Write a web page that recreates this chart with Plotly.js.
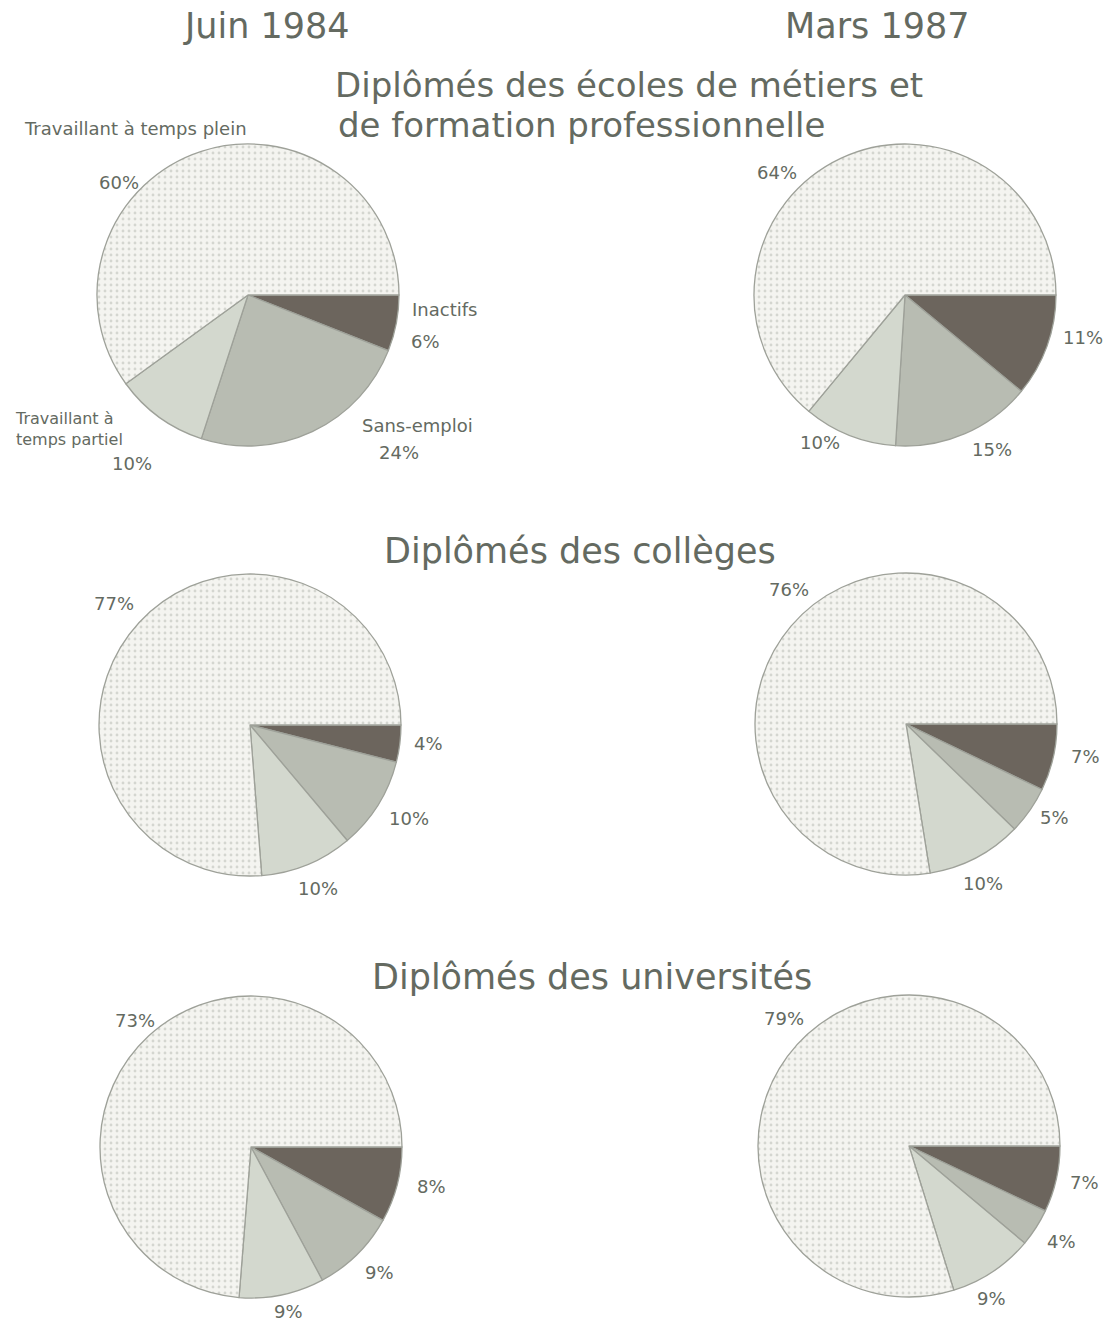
<!DOCTYPE html>
<html>
<head>
<meta charset="utf-8">
<script src="https://cdn.plot.ly/plotly-3.0.1.min.js"></script>
<style>html,body{margin:0;padding:0;background:#fff;}</style>
</head>
<body>
<div id="chart" style="width:1104px;height:1322px;"></div>
<script>
// ---- Data ----
const categories = ['Inactifs', 'Sans-emploi', 'Travaillant à temps partiel', 'Travaillant à temps plein'];
const periods = ['Juin 1984', 'Mars 1987'];
const groups = ['Diplômés des écoles de métiers et de formation professionnelle', 'Diplômés des collèges', 'Diplômés des universités'];
const metiers1984 = [6, 24, 10, 60];
const metiers1987 = [11, 15, 10, 64];
const colleges1984 = [4, 10, 10, 77];
const colleges1987 = [7, 5, 10, 76];
const universites1984 = [8, 9, 9, 73];
const universites1987 = [7, 4, 9, 79];

// ---- Layout ----
const W = 1104, H = 1322, R = 151;
const txt = '#646a61';
const sliceColors = ['#6c655d', '#b8bcb2', '#d3d8ce', '#f4f4f0'];

const pies = [
  {vals: metiers1984, cx: 248, cy: 295, lab: [[409, 342], [377, 452], [110, 463], [97, 182]]},
  {vals: metiers1987, cx: 905, cy: 295, lab: [[1061, 337], [970, 449], [798, 443], [755, 173]]},
  {vals: colleges1984, cx: 250, cy: 725, lab: [[412, 743], [387, 818], [296, 888], [92, 603]]},
  {vals: colleges1987, cx: 906, cy: 724, lab: [[1069, 756], [1038, 817], [961, 883], [767, 589]]},
  {vals: universites1984, cx: 251, cy: 1147, lab: [[415, 1186], [363, 1272], [272, 1311], [113, 1020]]},
  {vals: universites1987, cx: 909, cy: 1146, lab: [[1068, 1182], [1045, 1241], [975, 1298], [762, 1018]]}
];

const px = x => x / W;
const py = y => 1 - y / H;

const traces = pies.map(p => ({
  type: 'pie',
  labels: categories,
  values: p.vals,
  sort: false,
  direction: 'clockwise',
  rotation: 90,
  textinfo: 'none',
  hoverinfo: 'label+value',
  domain: {x: [px(p.cx - R), px(p.cx + R)], y: [py(p.cy + R), py(p.cy - R)]},
  marker: {
    colors: sliceColors,
    line: {color: '#9ea199', width: 1.3},
    pattern: {shape: ['', '', '', '.'], fgcolor: '#b4b7af', size: 6, solidity: 0.18, fillmode: 'overlay'}
  }
}));

const ann = [];
function addText(text, x, y, size, anchor, align) {
  ann.push({text: text, x: px(x), y: py(y), xref: 'paper', yref: 'paper', showarrow: false,
    xanchor: anchor || 'left', yanchor: 'middle', align: align || 'center',
    font: {family: 'DejaVu Sans', size: size, color: txt}});
}
// column headers
addText(periods[0], 266, 26, 35, 'center');
addText(periods[1], 877, 26, 35, 'center');
// group titles
addText('Diplômés des écoles de métiers et', 333, 85, 34, 'left');
addText('de formation professionnelle', 336, 125, 34, 'left');
addText(groups[1], 580, 551, 35, 'center');
addText(groups[2], 592, 977, 35, 'center');
// category labels (first pie only)
addText('Travaillant à temps plein', 22, 128, 18, 'left');
addText(categories[0], 410, 310, 18, 'left');
addText('Travaillant à<br>temps partiel', 13, 429, 16, 'left', 'left');
addText(categories[1], 360, 425, 18, 'left');
// percentages
pies.forEach(p => {
  p.vals.forEach((v, i) => addText(v + '%', p.lab[i][0], p.lab[i][1], 18, 'left'));
});

const layout = {
  width: W, height: H,
  margin: {l: 0, r: 0, t: 0, b: 0},
  paper_bgcolor: '#ffffff',
  showlegend: false,
  annotations: ann
};

Plotly.newPlot('chart', traces, layout, {displayModeBar: false, staticPlot: true});
</script>
</body>
</html>
